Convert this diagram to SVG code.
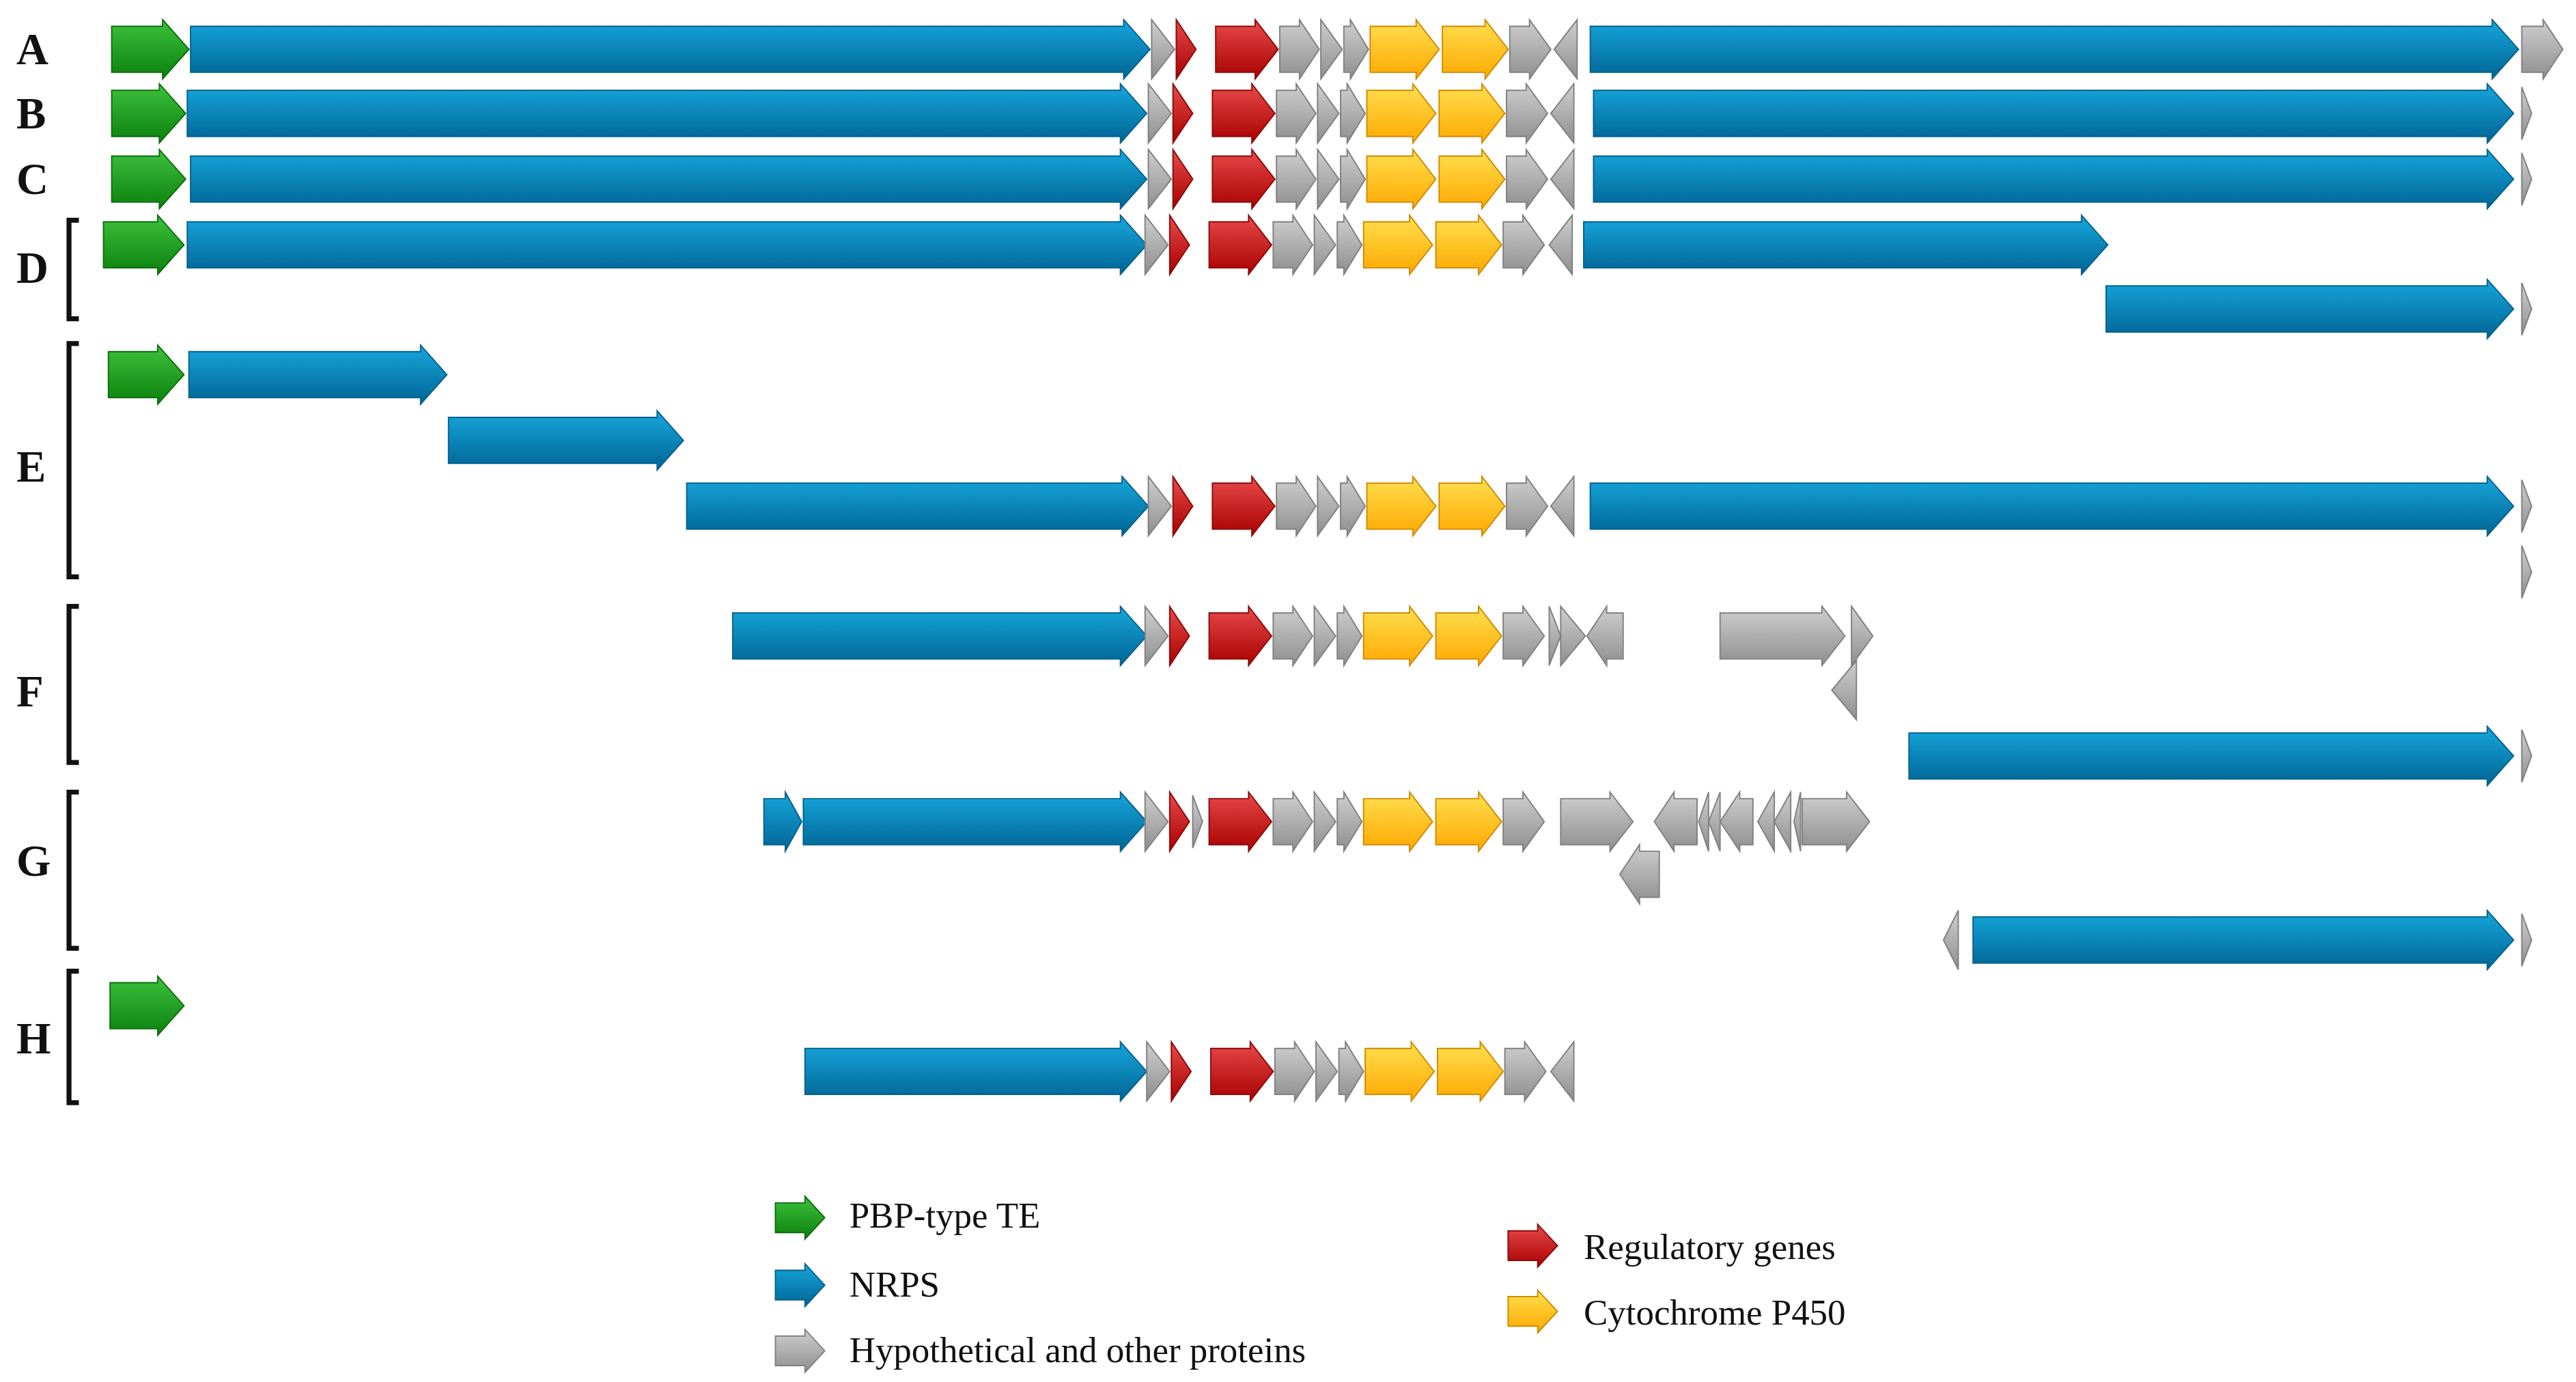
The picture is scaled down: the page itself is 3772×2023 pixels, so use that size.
<svg xmlns="http://www.w3.org/2000/svg" xmlns:xlink="http://www.w3.org/1999/xlink" width="3772" height="2023" viewBox="0 0 3772 2023">
<style>
.g{fill:url(#gg);stroke:#0d6e0d;stroke-width:0.8}
.b{fill:url(#gb);stroke:#05628f;stroke-width:0.8}
.y{fill:url(#gy);stroke:#808080;stroke-width:0.8}
.r{fill:url(#gr);stroke:#8e0a0a;stroke-width:0.8}
.o{fill:url(#go);stroke:#d08a00;stroke-width:0.8}
.lab{font-family:"Liberation Serif",serif;font-weight:bold;font-size:27px;fill:#111}
.leg{font-family:"Liberation Serif",serif;font-size:22px;fill:#111}
.br{fill:none;stroke:#111;stroke-width:3}
</style>
<defs>
<linearGradient id="gg" x1="0" y1="0" x2="0" y2="1"><stop offset="0" stop-color="#3dc23d"/><stop offset="1" stop-color="#0c800c"/></linearGradient>
<linearGradient id="gb" x1="0" y1="0" x2="0" y2="1"><stop offset="0" stop-color="#17a7dc"/><stop offset="1" stop-color="#006494"/></linearGradient>
<linearGradient id="gy" x1="0" y1="0" x2="0" y2="1"><stop offset="0" stop-color="#cfcfcf"/><stop offset="1" stop-color="#8e8e8e"/></linearGradient>
<linearGradient id="gr" x1="0" y1="0" x2="0" y2="1"><stop offset="0" stop-color="#e84a4a"/><stop offset="1" stop-color="#a80000"/></linearGradient>
<linearGradient id="go" x1="0" y1="0" x2="0" y2="1"><stop offset="0" stop-color="#ffe050"/><stop offset="1" stop-color="#ffa800"/></linearGradient>
<g id="cl">
<path class="y" d="M701,-18L715,0L701,18Z"/>
<path class="r" d="M716,-18L728,0L716,18Z"/>
<path class="r" d="M740,-14H764V-18L778,0L764,18V14H740Z"/>
<path class="y" d="M779,-14H791V-18L803,0L791,18V14H779Z"/>
<path class="y" d="M804,-18L817,0L804,18Z"/>
<path class="y" d="M818,-14H822V-18L833,0L822,18V14H818Z"/>
<path class="o" d="M834,-14H862V-18L876,0L862,18V14H834Z"/>
<path class="o" d="M878,-14H904V-18L918,0L904,18V14H878Z"/>
<path class="y" d="M919,-14H931V-18L944,0L931,18V14H919Z"/>
</g>
</defs>
<g transform="scale(2.4056)">
<g id="labels">
<text class="lab" x="10" y="39">A</text>
<text class="lab" x="10" y="78">B</text>
<text class="lab" x="10" y="118">C</text>
<text class="lab" x="10" y="172">D</text>
<text class="lab" x="10" y="293">E</text>
<text class="lab" x="10" y="430">F</text>
<text class="lab" x="10" y="533">G</text>
<text class="lab" x="10" y="641">H</text>
<path class="br" d="M48,134H42V194H48"/>
<path class="br" d="M48,209H42V351H48"/>
<path class="br" d="M48,369H42V464H48"/>
<path class="br" d="M48,482H42V577H48"/>
<path class="br" d="M48,591H42V671H48"/>
</g>
<g id="rowA" transform="translate(0,30)">
<path class="g" d="M68,-14H99V-18L115,0L99,18V14H68Z"/>
<path class="b" d="M116,-14H684V-18L700,0L684,18V14H116Z"/>
<use xlink:href="#cl"/>
<path class="y" d="M960,-18L946,0L960,18Z"/>
<path class="b" d="M968,-14H1517V-18L1533,0L1517,18V14H968Z"/>
<path class="y" d="M1535,-14H1548V-18L1560,0L1548,18V14H1535Z"/>
</g>
<g id="rowB" transform="translate(0,69)">
<path class="g" d="M68,-14H97V-18L113,0L97,18V14H68Z"/>
<path class="b" d="M114,-14H682V-18L698,0L682,18V14H114Z"/>
<use xlink:href="#cl" x="-2"/>
<path class="y" d="M958,-18L944,0L958,18Z"/>
<path class="b" d="M970,-14H1514V-18L1530,0L1514,18V14H970Z"/>
<path class="y" d="M1535,-16L1541,0L1535,16Z"/>
</g>
<g id="rowC" transform="translate(0,109)">
<path class="g" d="M68,-14H97V-18L113,0L97,18V14H68Z"/>
<path class="b" d="M116,-14H682V-18L698,0L682,18V14H116Z"/>
<use xlink:href="#cl" x="-2"/>
<path class="y" d="M958,-18L944,0L958,18Z"/>
<path class="b" d="M970,-14H1514V-18L1530,0L1514,18V14H970Z"/>
<path class="y" d="M1535,-16L1541,0L1535,16Z"/>
</g>
<g id="rowD" transform="translate(0,149)">
<path class="g" d="M63,-14H96V-18L112,0L96,18V14H63Z"/>
<path class="b" d="M114,-14H682V-18L698,0L682,18V14H114Z"/>
<use xlink:href="#cl" x="-4"/>
<path class="y" d="M957,-18L943,0L957,18Z"/>
<path class="b" d="M964,-14H1267V-18L1283,0L1267,18V14H964Z"/>
<path class="b" d="M1282,25H1514V21L1530,39L1514,57V53H1282Z"/>
<path class="y" d="M1535,23L1541,39L1535,55Z"/>
</g>
<g id="rowE" transform="translate(0,228)">
<path class="g" d="M66,-14H96V-18L112,0L96,18V14H66Z"/>
<path class="b" d="M115,-14H256V-18L272,0L256,18V14H115Z"/>
<path class="b" d="M273,26H400V22L416,40L400,58V54H273Z"/>
<g transform="translate(0,80)">
<path class="b" d="M418,-14H683V-18L699,0L683,18V14H418Z"/>
<use xlink:href="#cl" x="-2"/>
<path class="y" d="M958,-18L944,0L958,18Z"/>
<path class="b" d="M968,-14H1514V-18L1530,0L1514,18V14H968Z"/>
<path class="y" d="M1535,-16L1541,0L1535,16Z"/>
<path class="y" d="M1535,24L1541,40L1535,56Z"/>
</g>
</g>
<g id="rowF" transform="translate(0,387)">
<path class="b" d="M446,-14H682V-18L698,0L682,18V14H446Z"/>
<use xlink:href="#cl" x="-4"/>
<path class="y" d="M943,-18L950,0L943,18Z"/>
<path class="y" d="M950,-18L965,0L950,18Z"/>
<path class="y" d="M988,-14H978V-18L966,0L978,18V14H988Z"/>
<path class="y" d="M1047,-14H1109V-18L1123,0L1109,18V14H1047Z"/>
<path class="y" d="M1127,-18L1140,0L1127,18Z"/>
<path class="y" d="M1130,15L1115,33L1130,51Z"/>
<path class="b" d="M1162,59H1514V55L1530,73L1514,91V87H1162Z"/>
<path class="y" d="M1535,57L1541,73L1535,89Z"/>
</g>
<g id="rowG" transform="translate(0,500)">
<path class="b" d="M465,-14H478V-18L488,0L478,18V14H465Z"/>
<path class="b" d="M489,-14H682V-18L698,0L682,18V14H489Z"/>
<use xlink:href="#cl" x="-4"/>
<path class="y" d="M726,-16L732,0L726,16Z"/>
<path class="y" d="M950,-14H980V-18L994,0L980,18V14H950Z"/>
<path class="y" d="M1033,-14H1019V-18L1007,0L1019,18V14H1033Z"/>
<path class="y" d="M1040,-18L1034,0L1040,18Z"/>
<path class="y" d="M1047,-18L1040,0L1047,18Z"/>
<path class="y" d="M1067,-14H1059V-18L1047,0L1059,18V14H1067Z"/>
<path class="y" d="M1080,-18L1070,0L1080,18Z"/>
<path class="y" d="M1090,-18L1080,0L1090,18Z"/>
<path class="y" d="M1096,-18L1092,0L1096,18Z"/>
<path class="y" d="M1097,-14H1124V-18L1138,0L1124,18V14H1097Z"/>
<path class="y" d="M1010,18H998V14L986,32L998,50V46H1010Z"/>
<path class="y" d="M1192,54L1183,72L1192,90Z"/>
<path class="b" d="M1201,58H1514V54L1530,72L1514,90V86H1201Z"/>
<path class="y" d="M1535,56L1541,72L1535,88Z"/>
</g>
<g id="rowH" transform="translate(0,612)">
<path class="g" d="M67,-14H96V-18L112,0L96,18V14H67Z"/>
<g transform="translate(0,40)">
<path class="b" d="M490,-14H682V-18L698,0L682,18V14H490Z"/>
<use xlink:href="#cl" x="-3"/>
<path class="y" d="M958,-18L944,0L958,18Z"/>
</g>
</g>
<g id="legend">
<path class="g" d="M472,732H490V728L502,741L490,754V750H472Z"/>
<text class="leg" x="517" y="747">PBP-type TE</text>
<path class="b" d="M472,773H490V769L502,782L490,795V791H472Z"/>
<text class="leg" x="517" y="789">NRPS</text>
<path class="y" d="M472,813H490V809L502,822L490,835V831H472Z"/>
<text class="leg" x="517" y="829">Hypothetical and other proteins</text>
<path class="r" d="M918,749H936V745L948,758L936,771V767H918Z"/>
<text class="leg" x="964" y="766">Regulatory genes</text>
<path class="o" d="M918,789H936V785L948,798L936,811V807H918Z"/>
<text class="leg" x="964" y="806">Cytochrome P450</text>
</g>
</g>
</svg>
